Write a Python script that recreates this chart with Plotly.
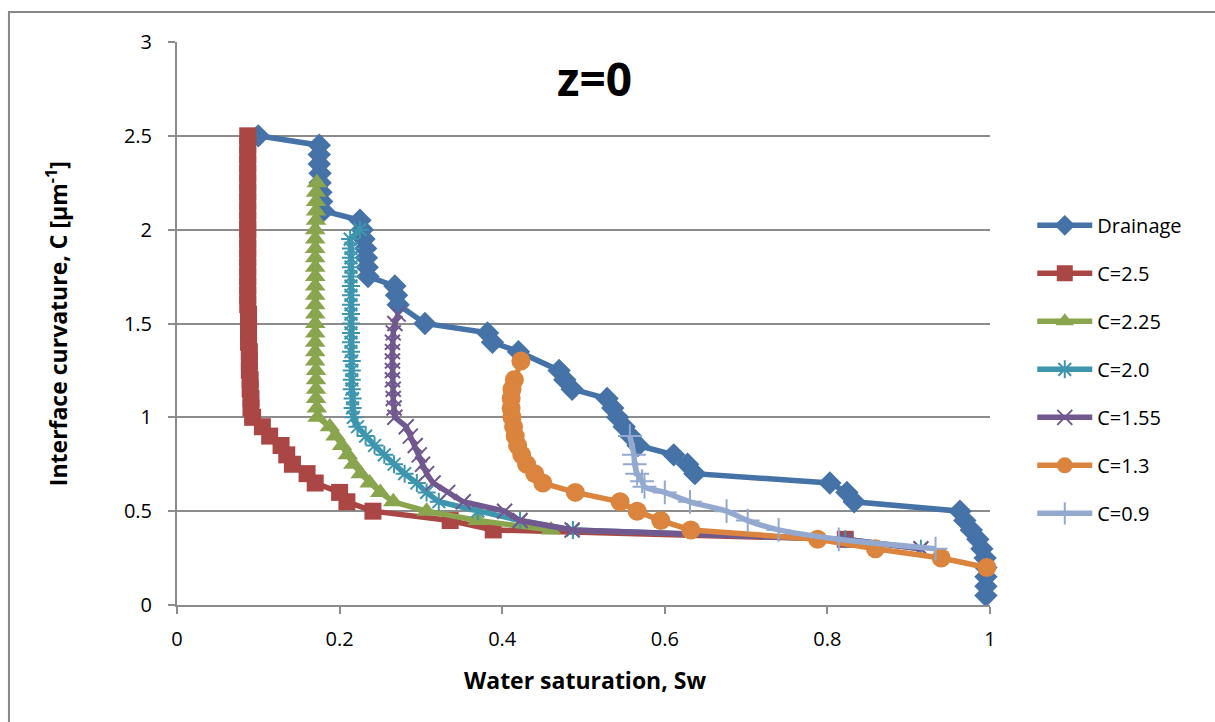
import plotly.graph_objects as go

# Drainage curve
drain_sw = [0.100, 0.175, 0.175, 0.175, 0.176, 0.176, 0.177, 0.178, 0.180,
            0.225, 0.228, 0.230, 0.232, 0.233, 0.234, 0.235,
            0.268, 0.270, 0.272, 0.305, 0.382, 0.388, 0.420,
            0.470, 0.477, 0.486, 0.529, 0.536, 0.542, 0.550, 0.558, 0.567,
            0.611, 0.628, 0.637, 0.803, 0.824, 0.833,
            0.963, 0.969, 0.977, 0.985, 0.990, 0.994, 0.995, 0.995, 0.995, 0.995]
drain_c = [2.50, 2.45, 2.40, 2.35, 2.30, 2.25, 2.20, 2.15, 2.10,
           2.05, 2.00, 1.95, 1.90, 1.85, 1.80, 1.75,
           1.70, 1.65, 1.60, 1.50, 1.45, 1.40, 1.35,
           1.25, 1.20, 1.15, 1.10, 1.05, 1.00, 0.95, 0.90, 0.85,
           0.80, 0.75, 0.70, 0.65, 0.60, 0.55,
           0.50, 0.45, 0.40, 0.35, 0.30, 0.25, 0.20, 0.15, 0.10, 0.05]

# Imbibition from C=2.5
c250_sw = [0.087, 0.087, 0.087, 0.087, 0.087, 0.087, 0.087, 0.087, 0.087, 0.087,
           0.087, 0.087, 0.087, 0.087, 0.087, 0.087, 0.087, 0.087, 0.087,
           0.088, 0.088, 0.088, 0.088, 0.089, 0.089, 0.089, 0.090, 0.090,
           0.091, 0.091, 0.093,
           0.105, 0.114, 0.128, 0.135, 0.142, 0.160, 0.170, 0.200, 0.209, 0.241,
           0.336, 0.389, 0.822]
c250_c = [2.50, 2.45, 2.40, 2.35, 2.30, 2.25, 2.20, 2.15, 2.10, 2.05,
          2.00, 1.95, 1.90, 1.85, 1.80, 1.75, 1.70, 1.65, 1.60,
          1.55, 1.50, 1.45, 1.40, 1.35, 1.30, 1.25, 1.20, 1.15,
          1.10, 1.05, 1.00,
          0.95, 0.90, 0.85, 0.80, 0.75, 0.70, 0.65, 0.60, 0.55, 0.50,
          0.45, 0.40, 0.35]

# Imbibition from C=2.25
c225_sw = [0.172, 0.171, 0.171, 0.171, 0.171, 0.170, 0.170, 0.170, 0.170, 0.170,
           0.170, 0.170, 0.170, 0.170, 0.170, 0.170, 0.170, 0.170, 0.170, 0.170,
           0.171, 0.171, 0.171, 0.171, 0.172, 0.173,
           0.188, 0.195, 0.203, 0.210, 0.217, 0.226, 0.237, 0.250, 0.266,
           0.307, 0.370, 0.460]
c225_c = [2.25, 2.20, 2.15, 2.10, 2.05, 2.00, 1.95, 1.90, 1.85, 1.80,
          1.75, 1.70, 1.65, 1.60, 1.55, 1.50, 1.45, 1.40, 1.35, 1.30,
          1.25, 1.20, 1.15, 1.10, 1.05, 1.00,
          0.95, 0.90, 0.85, 0.80, 0.75, 0.70, 0.65, 0.60, 0.55,
          0.50, 0.45, 0.40]

# Imbibition from C=2.0
c200_sw = [0.225, 0.213, 0.214, 0.214, 0.214, 0.214, 0.214, 0.214, 0.214, 0.214,
           0.214, 0.214, 0.214, 0.214, 0.215, 0.215, 0.215, 0.215, 0.216, 0.216, 0.217,
           0.222, 0.232, 0.243, 0.255, 0.267, 0.280, 0.295, 0.307, 0.322,
           0.370, 0.422, 0.487, 0.822, 0.915]
c200_c = [2.00, 1.95, 1.90, 1.85, 1.80, 1.75, 1.70, 1.65, 1.60, 1.55,
          1.50, 1.45, 1.40, 1.35, 1.30, 1.25, 1.20, 1.15, 1.10, 1.05, 1.00,
          0.95, 0.90, 0.85, 0.80, 0.75, 0.70, 0.65, 0.60, 0.55,
          0.50, 0.45, 0.40, 0.35, 0.30]

# Imbibition from C=1.55
c155_sw = [0.272, 0.268, 0.266, 0.265, 0.265, 0.265, 0.265, 0.265, 0.266, 0.266, 0.267, 0.268,
           0.282, 0.287, 0.293, 0.298, 0.302, 0.307, 0.315, 0.333, 0.352,
           0.403, 0.422, 0.486, 0.822, 0.915]
c155_c = [1.55, 1.50, 1.45, 1.40, 1.35, 1.30, 1.25, 1.20, 1.15, 1.10, 1.05, 1.00,
          0.95, 0.90, 0.85, 0.80, 0.75, 0.70, 0.65, 0.60, 0.55,
          0.50, 0.45, 0.40, 0.35, 0.30]

# Imbibition from C=1.3
c130_sw = [0.423, 0.415, 0.412, 0.411, 0.411, 0.412, 0.414, 0.416, 0.419, 0.424,
           0.430, 0.440, 0.450, 0.490, 0.545, 0.566, 0.595, 0.632,
           0.788, 0.859, 0.940, 0.996]
c130_c = [1.30, 1.20, 1.15, 1.10, 1.05, 1.00, 0.95, 0.90, 0.85, 0.80,
          0.75, 0.70, 0.65, 0.60, 0.55, 0.50, 0.45, 0.40,
          0.35, 0.30, 0.25, 0.20]

# Imbibition from C=0.9
c090_sw = [0.557, 0.562, 0.563, 0.566, 0.572, 0.575, 0.600, 0.631, 0.676, 0.702,
           0.740, 0.814, 0.933]
c090_c = [0.90, 0.80, 0.75, 0.70, 0.66, 0.63, 0.60, 0.55, 0.50, 0.45,
          0.40, 0.35, 0.30]

series = [
    ("Drainage", drain_sw, drain_c, "#4572A7", "diamond", 18, "linear"),
    ("C=2.5", c250_sw, c250_c, "#AA4643", "square", 17, "linear"),
    ("C=2.25", c225_sw, c225_c, "#89A54E", "triangle-up", 18, "linear"),
    ("C=2.0", c200_sw, c200_c, "#3D96AE", "asterisk-open", 15, "linear"),
    ("C=1.55", c155_sw, c155_c, "#71588F", "x-thin-open", 15, "linear"),
    ("C=1.3", c130_sw, c130_c, "#DB843D", "circle", 19, "linear"),
    ("C=0.9", c090_sw, c090_c, "#93A9CF", "cross-thin-open", 17, "spline"),
]

FONT = "'Open Sans', sans-serif"
GRID = "#8C8C8C"

fig = go.Figure()
for i, (name, xs, ys, color, symbol, size, shape) in enumerate(series):
    open_sym = symbol.endswith("-open")
    marker = dict(symbol=symbol, size=size, color=color)
    if open_sym:
        marker["line"] = dict(color=color, width=2)
    else:
        marker["line"] = dict(width=0)
    fig.add_trace(go.Scatter(
        x=xs, y=ys, name=name, mode="lines+markers",
        line=dict(color=color, width=5.5, shape=shape),
        marker=marker, cliponaxis=False,
        legendgroup=f"g{i}",
    ))

fig.update_layout(
    width=1215, height=722,
    margin=dict(l=177, r=225, t=42, b=117),
    paper_bgcolor="white", plot_bgcolor="white",
    font=dict(family=FONT, size=20, color="black"),
    showlegend=True,
    legend=dict(
        x=1.052, y=0.709, xanchor="left", yanchor="top",
        font=dict(family=FONT, size=20, color="black"),
        traceorder="grouped", tracegroupgap=19,
        itemwidth=55,
        bgcolor="rgba(0,0,0,0)",
    ),
    xaxis=dict(
        range=[0, 1], tickvals=[0, 0.2, 0.4, 0.6, 0.8, 1],
        ticktext=["0", "0.2", "0.4", "0.6", "0.8", "1"],
        showgrid=False, zeroline=False,
        showline=True, linecolor=GRID, linewidth=2,
        ticks="outside", ticklen=7, tickcolor=GRID, tickwidth=2,
        ticklabelstandoff=8,
        tickfont=dict(family=FONT, size=20),
    ),
    yaxis=dict(
        range=[0, 3], tickvals=[0, 0.5, 1, 1.5, 2, 2.5, 3],
        ticktext=["0", "0.5", "1", "1.5", "2", "2.5", "3"],
        showgrid=True, gridcolor=GRID, gridwidth=2,
        zeroline=False,
        showline=True, linecolor=GRID, linewidth=2,
        ticks="outside", ticklen=7, tickcolor=GRID, tickwidth=2,
        ticklabelstandoff=12,
        tickfont=dict(family=FONT, size=20),
    ),
    annotations=[
        dict(text="<b>z=0</b>", x=0.513, y=0.936, xref="paper", yref="paper",
             xanchor="center", yanchor="middle",
             showarrow=False, font=dict(family=FONT, size=46)),
        dict(text="<b>Water saturation, Sw</b>", x=0.502, y=-0.133,
             xref="paper", yref="paper", xanchor="center", yanchor="middle",
             showarrow=False, font=dict(family=FONT, size=23)),
        dict(text="<b>Interface curvature, C [μm<sup>-1</sup>]</b>", x=-0.148, y=0.50,
             xref="paper", yref="paper", xanchor="center", yanchor="middle",
             showarrow=False, textangle=-90,
             font=dict(family=FONT, size=23)),
    ],
    shapes=[
        dict(type="rect", xref="paper", yref="paper",
             x0=-0.2067, x1=1.6, y0=-0.6, y1=1.0535,
             line=dict(color="#878787", width=2), fillcolor="rgba(0,0,0,0)",
             layer="below"),
    ],
)

fig.write_html("out.html")
